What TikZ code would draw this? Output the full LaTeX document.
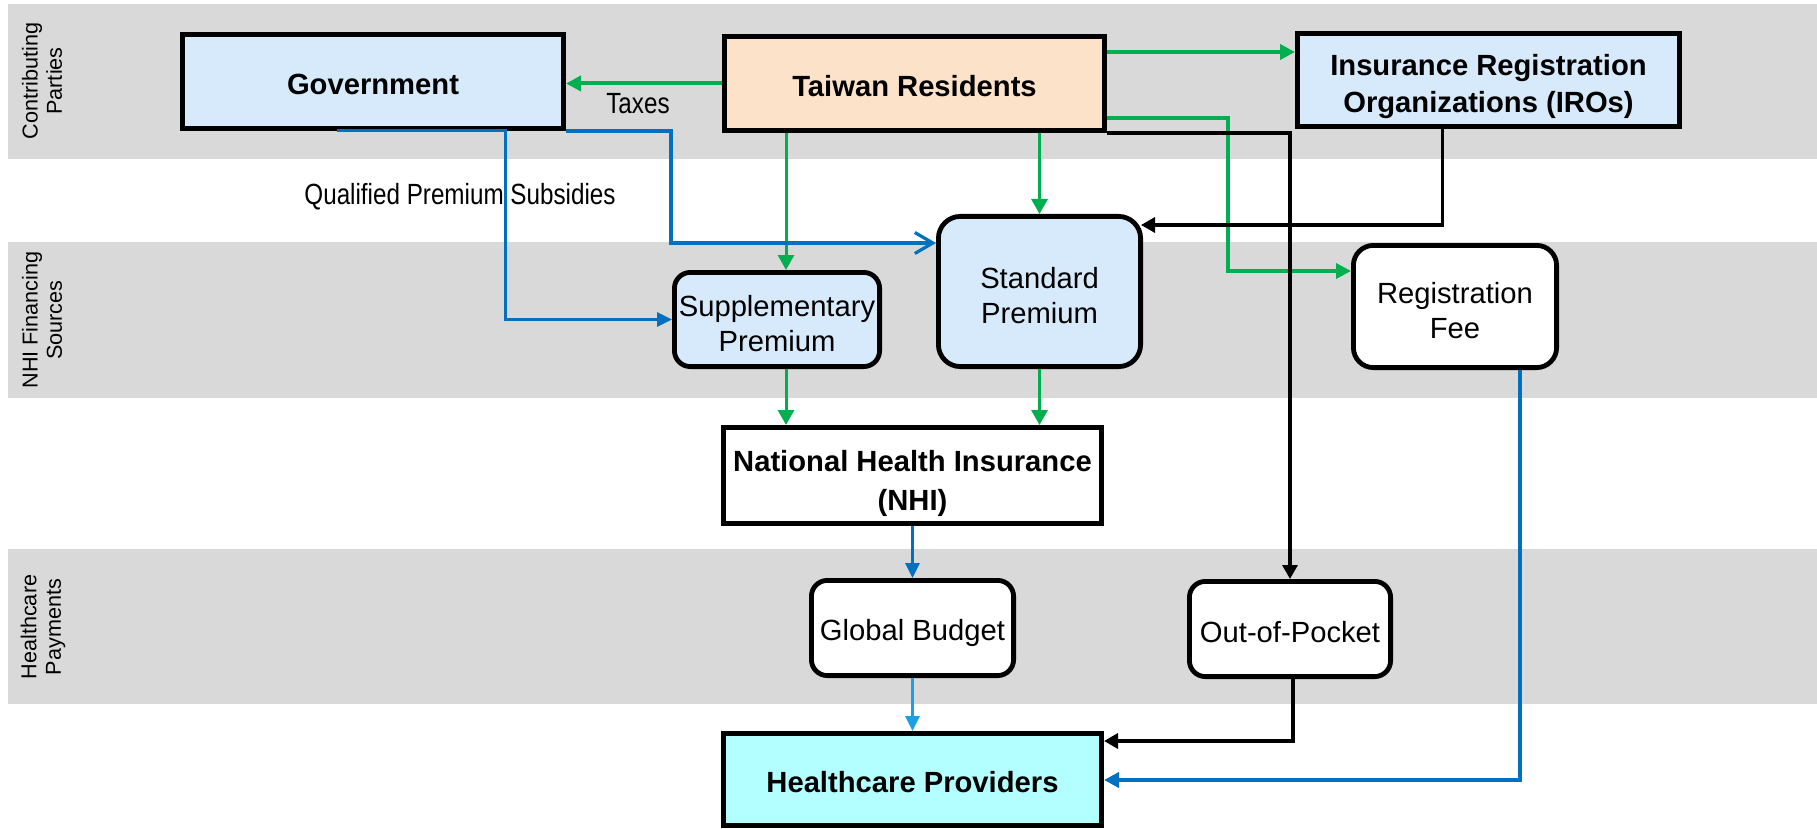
\documentclass[tikz,border=0pt]{standalone}
\usepackage{fontspec}
\setmainfont{Liberation Sans}
\newfontfamily\narrowfont[FakeStretch=0.83]{Liberation Sans}
\usetikzlibrary{arrows.meta,calc}
\definecolor{bandgray}{HTML}{D9D9D9}
\definecolor{lblue}{HTML}{D6EAFB}
\definecolor{peach}{HTML}{FDE2CA}
\definecolor{cyanfill}{HTML}{B3FFFF}
\definecolor{grn}{HTML}{00B050}
\definecolor{blu}{HTML}{0070C0}
\definecolor{skyb}{HTML}{1BA1E2}
\newcommand{\topstrut}{\rule{0pt}{15.6pt}}
\newcommand{\tallstrut}{\rule{0pt}{17.2pt}}
\newcommand{\midstrut}{\rule{0pt}{16.3pt}}
\newcommand{\botstrut}{\rule[-2.2pt]{0pt}{2.2pt}}
\begin{document}
\begin{tikzpicture}[x=0.5pt,y=-0.5pt,
  boxbase/.style={draw=black, line width=2.4pt, inner sep=0pt, outer sep=1.2pt, align=center,
    execute at begin node=\topstrut, execute at end node=\botstrut},
  box/.style={boxbase, font=\fontsize{14.6}{18.5}\selectfont\bfseries},
  rbox/.style={boxbase, rounded corners=8pt, font=\fontsize{14.6}{17.5}\selectfont},
  side/.style={rotate=90, align=center, inner sep=0pt, font=\fontsize{10.8}{12.2}\selectfont},
  lbl/.style={inner sep=0pt, font=\fontsize{14.6}{17}\selectfont\narrowfont},
  gthin/.style={draw=grn, line width=1.5pt, -{Triangle[length=7.5pt,width=8pt]}},
  gthick/.style={draw=grn, line width=2pt, -{Triangle[length=7.5pt,width=7.5pt]}},
  bline/.style={draw=blu, line width=1.5pt, -{Triangle[length=7.5pt,width=7pt]}},
  bthick/.style={draw=blu, line width=2pt, -{Triangle[length=7.5pt,width=7.5pt]}},
  barb/.style={draw=blu, line width=1.6pt, -{Straight Barb[length=9pt,width=10.5pt]}},
  sline/.style={draw=skyb, line width=1.5pt, -{Triangle[length=7.5pt,width=7pt]}},
  kline/.style={draw=black, line width=1.6pt, -{Triangle[length=7pt,width=7.5pt]}},
  kthick/.style={draw=black, line width=2pt, -{Triangle[length=7pt,width=7.5pt]}}
]
\useasboundingbox (0,0) rectangle (1817,829);
\fill[white] (0,0) rectangle (1817,829);
% bands
\fill[bandgray] (8,4) rectangle (1817,159);
\fill[bandgray] (8,242) rectangle (1817,398);
\fill[bandgray] (8,549) rectangle (1817,704);
% side labels
\node[side] (s1) at (42,81) {Contributing\\Parties};
\node[side] (s2) at (42,320) {NHI Financing\\Sources};
\node[side] (s3) at (43,627) {Healthcare\\Payments};
% nodes
\node[box, fill=lblue, minimum width=190.6pt, minimum height=47.1pt] (gov) at (373,81.5) {Government};
\node[box, fill=peach, minimum width=190.1pt, minimum height=47.1pt] (tr) at (914.5,83.5) {Taiwan Residents};
\node[box, fill=lblue, minimum width=191.1pt, minimum height=46.6pt] (iro) at (1488.5,80) {\tallstrut Insurance Registration\\Organizations (IROs)};
\node[rbox, fill=lblue, minimum width=102.6pt, minimum height=47.1pt] (sup) at (777,319.5) {\midstrut Supplementary\\Premium};
\node[rbox, fill=lblue, rounded corners=11pt, minimum width=101.1pt, minimum height=75.1pt] (sp) at (1039.5,291.5) {\midstrut Standard\\Premium};
\node[rbox, fill=white, rounded corners=10pt, minimum width=101.6pt, minimum height=61.1pt] (reg) at (1455,306.5) {\midstrut Registration\\Fee};
\node[box, fill=white, font=\fontsize{14.6}{19.5}\selectfont\bfseries, minimum width=189.1pt, minimum height=48.1pt] (nhi) at (912.5,475.5) {\rule{0pt}{18.5pt}National Health Insurance\\(NHI)};
\node[rbox, fill=white, minimum width=101.1pt, minimum height=47.6pt] (gb) at (912.5,628) {Global Budget};
\node[rbox, fill=white, minimum width=100.6pt, minimum height=47.6pt] (oop) at (1290,629) {Out-of-Pocket};
\node[box, fill=cyanfill, minimum width=189.1pt, minimum height=46.1pt] (hp) at (912.5,779.5) {Healthcare Providers};
% labels
\node[lbl] (taxes) at (638,104) {Taxes};
\node[lbl] (qps) at (460,197) {Qualified Premium Subsidies};
% coordinates
\coordinate (supIn) at ($(sup.north)+(9,0)$);
\coordinate (supOut) at ($(sup.south)+(9,0)$);
\coordinate (trE1) at ($(tr.north east)+(0,18)$);
\coordinate (trE2) at ($(tr.north east)+(0,84)$);
\coordinate (iroOut) at ($(iro.south)+(-46,0)$);
\coordinate (govB1) at ($(gov.south west)+(157,0)$);
\coordinate (govB2) at ($(gov.south west)+(325,0)$);
% green connectors
\draw[gthick] (tr.west) -- (tr.west -| gov.east);
\draw[gthick] (trE1) -- (trE1 -| iro.west);
\draw[gthin] (supIn |- tr.south) -- (supIn);
\draw[gthin] (sp.north |- tr.south) -- (sp.north);
\draw[gthin] (supOut) -- (supOut |- nhi.north);
\draw[gthin] (sp.south) -- (sp.south |- nhi.north);
\draw[gthick, line width=1.75pt] (trE2) -- ++(121,0) |- ($(reg.north west)+(0,28)$);
% black connectors
\draw[kline] (tr.south east) -| (oop.north);
\draw[kline] (iroOut) |- ($(sp.north east)+(-2,11)$);
\draw[kthick] ($(oop.south)+(3,0)$) |- ($(hp.north east)+(0,10)$);
% blue connectors
\draw[bline] (govB1) -- (govB2) |- (sup.west);
\draw[barb] (gov.south east) -- ++(105,0) |- ($(sp.north west)+(0,29)$);
\draw[bline] (nhi.south) -- (gb.north);
\draw[sline] (gb.south) -- (hp.north);
\draw[bthick] ($(reg.south)+(65,0)$) |- ($(hp.north east)+(0,49)$);
\end{tikzpicture}
\end{document}
